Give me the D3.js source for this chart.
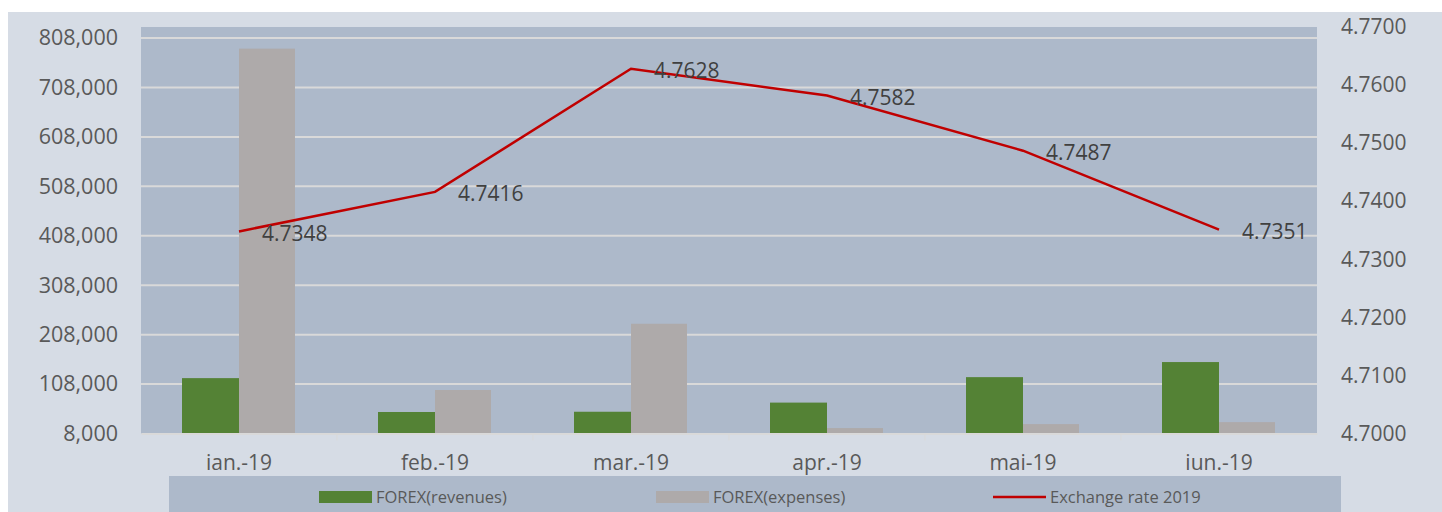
<!DOCTYPE html>
<html><head><meta charset="utf-8">
<script src="https://cdn.jsdelivr.net/npm/d3@7"></script>
<style>body{margin:0;background:#fff}svg{display:block}text{font-family:"Open Sans",sans-serif}</style>
</head><body><svg id="c" width="1442" height="512"></svg>
<script>
const categories = ["ian.-19","feb.-19","mar.-19","apr.-19","mai-19","iun.-19"];
const revenues = [120000, 51500, 52000, 70500, 122000, 152500];
const expenses = [786500, 96000, 230000, 19000, 27000, 31000];
const rate = [4.7348, 4.7416, 4.7628, 4.7582, 4.7487, 4.7351];
const leftTicks = [8000,108000,208000,308000,408000,508000,608000,708000,808000];
const rightTicks = [4.70,4.71,4.72,4.73,4.74,4.75,4.76,4.77];
const legendLabels = ["FOREX(revenues)","FOREX(expenses)","Exchange rate 2019"];

const svg = d3.select("#c");
const P = {l:141, r:1317, t:27, b:433.5};
svg.append("rect").attr("x",8).attr("y",12).attr("width",1434).attr("height",500).attr("fill","#d6dce5");
svg.append("rect").attr("x",P.l).attr("y",P.t).attr("width",P.r-P.l).attr("height",P.b-P.t).attr("fill","#adb9ca");

const x = d3.scaleBand().domain(categories).range([P.l,P.r]);
const yL = d3.scaleLinear().domain([8000,808000]).range([P.b,38]);
const yR = d3.scaleLinear().domain([4.70,4.77]).range([P.b,27]);

// gridlines
svg.append("g").selectAll("line").data(leftTicks.slice(1)).join("line")
  .attr("x1",P.l).attr("x2",P.r).attr("y1",d=>yL(d)).attr("y2",d=>yL(d))
  .attr("stroke","#d9d9d9").attr("stroke-width",2);

// left axis
const gl = svg.append("g").attr("transform",`translate(${P.l},0)`)
  .call(d3.axisLeft(yL).tickValues(leftTicks).tickFormat(d3.format(",")).tickSize(0).tickPadding(23));
gl.select(".domain").remove();
gl.selectAll("text").attr("fill","#595959").style("font-size","21.5px");

// right axis
const gr = svg.append("g").attr("transform",`translate(${P.r},0)`)
  .call(d3.axisRight(yR).tickValues(rightTicks).tickFormat(d3.format(".4f")).tickSize(0).tickPadding(24));
gr.select(".domain").remove();
gr.selectAll("text").attr("fill","#595959").style("font-size","21px");

// bars
const bw = 57;
const bars = svg.append("g");
bars.selectAll(".rev").data(categories).join("rect")
  .attr("x",d=>x(d)+x.bandwidth()/2-bw).attr("width",bw)
  .attr("y",(d,i)=>yL(revenues[i])).attr("height",(d,i)=>yL(8000)-yL(revenues[i]))
  .attr("fill","#548235");
bars.selectAll(".exp").data(categories).join("rect")
  .attr("x",d=>x(d)+x.bandwidth()/2).attr("width",bw-1)
  .attr("y",(d,i)=>yL(expenses[i])).attr("height",(d,i)=>yL(8000)-yL(expenses[i]))
  .attr("fill","#aeaaaa");

// x axis
const gx = svg.append("g").attr("transform",`translate(0,${P.b})`)
  .call(d3.axisBottom(x).tickSize(0).tickPadding(22));
gx.select(".domain").attr("stroke","#d9d9d9").attr("stroke-width",2);
gx.selectAll("text").attr("fill","#595959").style("font-size","21px");
svg.append("g").selectAll("line").data(categories.slice(1)).join("line")
  .attr("x1",d=>x(d)).attr("x2",d=>x(d)).attr("y1",P.b).attr("y2",P.b+7)
  .attr("stroke","#d9d9d9").attr("stroke-width",1);

// line
const line = d3.line().x((d,i)=>x(categories[i])+x.bandwidth()/2).y(d=>yR(d));
svg.append("path").datum(rate).attr("d",line).attr("fill","none").attr("stroke","#c00000").attr("stroke-width",2.5);
svg.append("g").selectAll("text").data(rate).join("text")
  .attr("x",(d,i)=>x(categories[i])+x.bandwidth()/2+23).attr("y",d=>yR(d)+2)
  .attr("dy","0.35em").attr("fill","#404040").style("font-size","21px")
  .text(d=>d.toFixed(4));

// legend
svg.append("rect").attr("x",169).attr("y",476).attr("width",1172).attr("height",36).attr("fill","#adb9ca");
const lg = svg.append("g");
const lx = [319, 656, 993];
lg.append("rect").attr("x",lx[0]).attr("y",491).attr("width",53).attr("height",12).attr("fill","#548235");
lg.append("rect").attr("x",lx[1]).attr("y",491).attr("width",53).attr("height",12).attr("fill","#aeaaaa");
lg.append("line").attr("x1",lx[2]).attr("x2",lx[2]+53).attr("y1",497).attr("y2",497).attr("stroke","#c00000").attr("stroke-width",2.5);
lg.selectAll("text").data(legendLabels).join("text")
  .attr("x",(d,i)=>lx[i]+57).attr("y",497).attr("dy","0.35em")
  .attr("fill","#595959").style("font-size","16.5px").text(d=>d);
</script></body></html>
